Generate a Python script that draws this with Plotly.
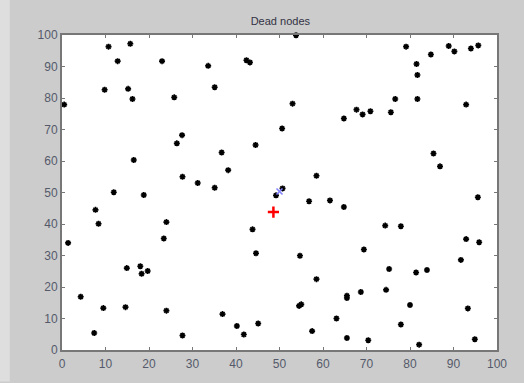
import plotly.graph_objects as go

node_x = [0.5, 10.7, 15.7, 12.8, 23.0, 33.6, 9.8, 15.2, 16.2, 25.8, 27.6, 26.4,
          53.8, 42.4, 43.2, 35.1, 53.0, 50.6, 44.5, 64.8, 67.7, 69.1, 70.9,
          75.6, 76.6, 81.7, 79.1, 81.5, 81.7, 84.8, 88.9, 90.2, 94.0, 95.7, 92.9,
          1.4, 7.7, 8.4, 11.9, 16.5, 18.8, 27.7, 31.2, 24.0, 23.4,
          36.7, 38.2, 35.1, 58.5, 50.7, 49.2, 56.8, 61.6, 64.8, 43.8, 44.6, 54.7, 69.4,
          85.4, 86.9, 95.6, 74.3, 77.9, 92.9, 95.9, 91.7,
          4.3, 9.5, 7.4, 14.6, 14.9, 18.0, 18.3, 19.7, 24.0, 27.7,
          58.5, 36.9, 40.2, 41.8, 45.1, 54.5, 55.0, 57.5, 63.1, 65.5, 65.5, 65.5, 68.7, 70.4,
          75.2, 74.5, 81.4, 83.9, 80.0, 93.3, 77.9, 82.1, 94.9]
node_y = [77.9, 96.3, 97.2, 91.7, 91.7, 90.2, 82.6, 82.9, 79.7, 80.2, 68.2, 65.6,
          99.9, 92.0, 91.3, 83.4, 78.2, 70.3, 65.1, 73.5, 76.3, 74.8, 75.8,
          75.5, 79.7, 79.7, 96.3, 90.8, 87.3, 93.8, 96.5, 94.8, 95.7, 96.7, 77.9,
          34.0, 44.5, 40.1, 50.1, 60.3, 49.2, 55.0, 53.0, 40.6, 35.4,
          62.7, 57.1, 51.5, 55.3, 51.3, 49.1, 47.2, 47.5, 45.4, 38.3, 30.7, 29.9, 31.9,
          62.4, 58.3, 48.5, 39.5, 39.3, 35.2, 34.2, 28.6,
          16.9, 13.3, 5.4, 13.6, 26.0, 26.6, 24.2, 25.1, 12.5, 4.6,
          22.5, 11.4, 7.6, 4.9, 8.4, 14.0, 14.5, 6.0, 10.0, 17.2, 16.5, 3.8, 18.4, 3.1,
          25.7, 19.1, 24.6, 25.4, 14.3, 13.2, 8.1, 1.7, 3.4]

sink_x = [50.0]
sink_y = [50.3]
head_x = [48.6]
head_y = [43.8]

tick_vals = [0, 10, 20, 30, 40, 50, 60, 70, 80, 90, 100]
tick_text = [str(v) for v in tick_vals]

fig = go.Figure()
fig.add_trace(go.Scatter(x=node_x, y=node_y, mode="markers", cliponaxis=False,
                         marker=dict(symbol="asterisk-open", size=5, color="black",
                                     line=dict(color="black", width=1.6))))
fig.add_trace(go.Scatter(x=sink_x, y=sink_y, mode="markers", cliponaxis=False,
                         marker=dict(symbol="x-thin-open", size=6, color="#7f7fff",
                                     line=dict(color="#7f7fff", width=1.5))))
fig.add_trace(go.Scatter(x=head_x, y=head_y, mode="markers", cliponaxis=False,
                         marker=dict(symbol="cross-thin-open", size=8, color="red",
                                     line=dict(color="red", width=2.5))))

axis_common = dict(range=[0, 100], tickvals=tick_vals, ticktext=tick_text,
                   ticks="inside", ticklen=3, tickcolor="#777", showgrid=False,
                   zeroline=False, showline=True, linecolor="#777", linewidth=2,
                   mirror="ticks", tickfont=dict(family="Liberation Sans", size=12, color="#555a6a"))

fig.update_layout(
    width=524, height=383,
    margin=dict(l=62, r=27, t=35, b=28),
    paper_bgcolor="#cccccc", plot_bgcolor="white",
    showlegend=False,
    title=dict(text="Dead nodes", x=0.535, xanchor="center", y=0.945, yanchor="middle",
               font=dict(family="Liberation Sans", size=11, color="#333344")),
    xaxis=dict(**axis_common, ticklabelstandoff=2),
    yaxis=dict(**axis_common),
    shapes=[dict(type="rect", xref="paper", yref="paper", x0=-0.1425, x1=-0.12,
                 y0=-0.1, y1=1.12, fillcolor="#dedede", line=dict(width=0), layer="below")],
)

fig.write_html("out.html", config={"displayModeBar": False},
               post_script="document.body.style.margin='0';document.body.style.overflow='hidden';document.body.style.background='#cccccc';")
